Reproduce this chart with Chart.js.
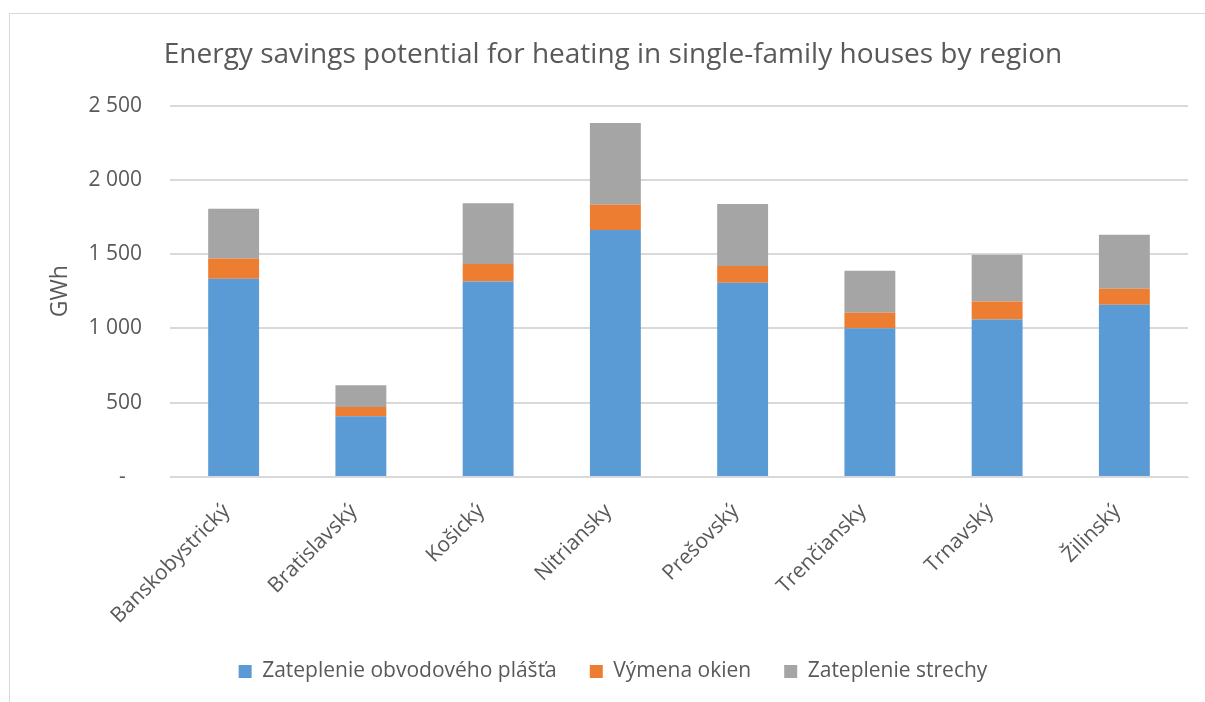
<!DOCTYPE html>
<html lang="sk">
<head>
  <meta charset="UTF-8">
  <title>Energy savings potential</title>
  <script src="https://cdn.jsdelivr.net/npm/chart.js"></script>
  <style>
    body { margin: 0; background: #fff; }
    .ramik {
      position: absolute; left: 9px; top: 13px; width: 1200px; height: 700px;
      border-left: 1px solid #d9d9d9; border-top: 1px solid #d9d9d9;
    }
    canvas { display: block; }
  </style>
</head>
<body>

<div class="ramik">
  <canvas id="graf" width="1195" height="688"></canvas>
</div>

<script>
// kraje a hodnoty (GWh) odčítané z grafu
const kraje = ['Banskobystrický', 'Bratislavský', 'Košický', 'Nitriansky', 'Prešovský', 'Trenčiansky', 'Trnavský', 'Žilinský'];
const plast = [1334, 409, 1316, 1662, 1307, 1002, 1060, 1159];
const okna = [137, 63, 117, 171, 113, 103, 121, 108];
const strecha = [335, 146, 409, 550, 417, 283, 315, 364];
const yTicks = [0, 500, 1000, 1500, 2000, 2500];

const font = 'Open Sans';
const sivaText = '#595959';

function formatTick(v) {
  if (v === 0) return '-   ';
  return v.toLocaleString('en-US').replace(',', ' ');
}

new Chart(document.getElementById('graf'), {
  type: 'bar',
  data: {
    labels: kraje,
    datasets: [
      { label: 'Zateplenie obvodového plášťa', data: plast, backgroundColor: '#5B9BD5' },
      { label: 'Výmena okien', data: okna, backgroundColor: '#ED7D31' },
      { label: 'Zateplenie strechy', data: strecha, backgroundColor: '#A5A5A5' }
    ]
  },
  options: {
    responsive: false,
    animation: false,
    devicePixelRatio: 1,
    categoryPercentage: 1,
    barPercentage: 0.4,
    // ľavý odsadok posúva stred nadpisu a legendy ako v origináli
    layout: { padding: { left: 28, right: 17, top: 0, bottom: 10 } },
    plugins: {
      tooltip: { enabled: false },
      title: {
        display: true,
        text: 'Energy savings potential for heating in single-family houses by region',
        color: sivaText,
        font: { family: font, size: 28, weight: 'normal' },
        padding: { top: 24, bottom: 34 }
      },
      legend: {
        position: 'bottom',
        labels: {
          color: sivaText,
          font: { family: font, size: 21 },
          boxWidth: 13,
          boxHeight: 13,
          padding: 33
        }
      }
    },
    scales: {
      x: {
        stacked: true,
        grid: { display: false },
        border: { display: true, color: '#d9d9d9' },
        ticks: {
          color: sivaText,
          font: { family: font, size: 21 },
          minRotation: 45,
          maxRotation: 45,
          autoSkip: false,
          labelOffset: -7,
          padding: 14
        },
        afterFit: s => { s.height = 151; }
      },
      y: {
        stacked: true,
        min: 0,
        max: 2500,
        afterBuildTicks: s => { s.ticks = yTicks.map(v => ({ value: v })); },
        grid: { color: '#d9d9d9', lineWidth: 2, drawTicks: false },
        border: { display: false },
        ticks: {
          color: sivaText,
          font: { family: font, size: 21 },
          padding: 28,
          callback: v => formatTick(v)
        },
        title: {
          display: true,
          text: 'GWh',
          color: sivaText,
          font: { family: font, size: 23 },
          padding: { top: 9, bottom: 0 }
        },
        afterFit: s => { s.width = 132; }
      }
    }
  }
});
</script>

</body>
</html>
